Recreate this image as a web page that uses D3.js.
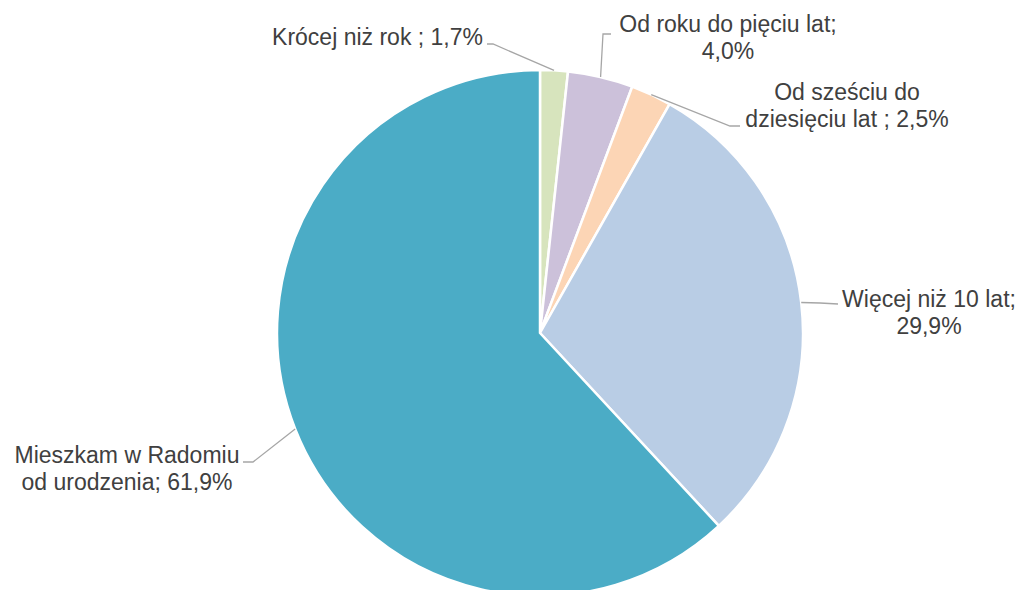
<!DOCTYPE html>
<html>
<head>
<meta charset="utf-8">
<script src="https://cdn.jsdelivr.net/npm/d3@7"></script>
<style>
  body { margin: 0; background: #fff; }
  svg { display: block; }
  text { font-family: "Liberation Sans", Arial, sans-serif; fill: #404040; }
</style>
</head>
<body>
<svg id="wykres" width="1019" height="590"></svg>
<script>
// dane wykresu (kolejnosc od godziny 12, zgodnie z ruchem wskazowek)
const kategorie = [
  "Krócej niż rok",
  "Od roku do pięciu lat",
  "Od sześciu do dziesięciu lat",
  "Więcej niż 10 lat",
  "Mieszkam w Radomiu od urodzenia"
];
const wartosci = [1.7, 4.0, 2.5, 29.9, 61.9];
const etykiety = [
  ["Krócej niż rok ; 1,7%"],
  ["Od roku do pięciu lat;", "4,0%"],
  ["Od sześciu do", "dziesięciu lat ; 2,5%"],
  ["Więcej niż 10 lat;", "29,9%"],
  ["Mieszkam w Radomiu", "od urodzenia; 61,9%"]
];

const kolory = ["#d7e4bd", "#ccc1da", "#fcd5b5", "#b9cde5", "#4bacc6"];

// polozenie etykiet: punkt zalamania linii, koniec linii, tekst
const uklad = [
  { lam: [493, 44], kon: [487, 44], x: 483, y: 45, anchor: "end" },
  { lam: [603, 34], kon: [611, 34], x: 728, y: 32, anchor: "middle" },
  { lam: [730, 126], kon: [740, 126], x: 847, y: 100, anchor: "middle" },
  { lam: [820, 303], kon: [838, 304], x: 929, y: 307, anchor: "middle" },
  { lam: [253, 462], kon: [243, 462], x: 127, y: 463, anchor: "middle" }
];

const cx = 540, cy = 333, r = 263;
const lineH = 27;

const svg = d3.select("#wykres");
const g = svg.append("g").attr("transform", `translate(${cx},${cy})`);

const pie = d3.pie().value(d => d).sort(null);
const arc = d3.arc().innerRadius(0).outerRadius(r);
const arcBrzeg = d3.arc().innerRadius(r).outerRadius(r);

const kawalki = pie(wartosci);

g.selectAll("path")
  .data(kawalki)
  .enter()
  .append("path")
  .attr("d", arc)
  .attr("fill", (d, i) => kolory[i])
  .attr("stroke", "#fff")
  .attr("stroke-width", 2.5)
  .attr("stroke-linejoin", "round");

// linie odniesienia
kawalki.forEach((d, i) => {
  const p = arcBrzeg.centroid(d);
  const u = uklad[i];
  svg.append("polyline")
    .attr("points", [[p[0] + cx, p[1] + cy], u.lam, u.kon].map(q => q.join(",")).join(" "))
    .attr("fill", "none")
    .attr("stroke", "#a6a6a6")
    .attr("stroke-width", 1.3);
});

// etykiety
etykiety.forEach((linie, i) => {
  const u = uklad[i];
  const t = svg.append("text")
    .attr("text-anchor", u.anchor)
    .style("font-size", "23px");
  linie.forEach((l, j) => {
    t.append("tspan")
      .attr("x", u.x)
      .attr("y", u.y + j * lineH)
      .text(l);
  });
});
</script>
</body>
</html>
